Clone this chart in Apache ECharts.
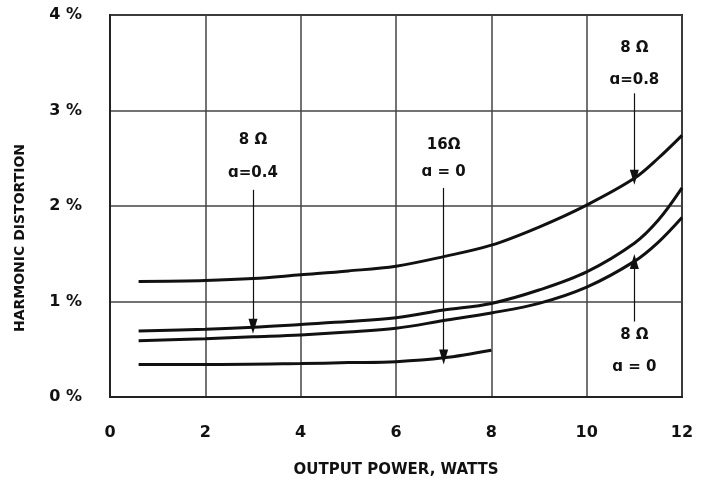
<!DOCTYPE html>
<html>
<head>
<meta charset="utf-8">
<script src="https://cdn.jsdelivr.net/npm/echarts@6/dist/echarts.min.js"></script>
<style>html,body{margin:0;padding:0;background:#fff;}#c{width:704px;height:481px;}</style>
</head>
<body>
<div id="c"></div>
<script>
// Output power (watts)
const powerX = [0.6, 2, 3, 4, 5, 6, 7, 8, 9, 10, 11, 11.5, 12];
// Harmonic distortion (%)
const dist8a08 = [1.21, 1.22, 1.24, 1.28, 1.32, 1.37, 1.47, 1.59, 1.78, 2.01, 2.29, 2.50, 2.74];
const dist8a04 = [0.69, 0.71, 0.73, 0.76, 0.79, 0.83, 0.91, 0.98, 1.12, 1.31, 1.61, 1.85, 2.19];
const dist8a0  = [0.59, 0.61, 0.63, 0.65, 0.68, 0.72, 0.80, 0.88, 0.98, 1.15, 1.42, 1.62, 1.88];
const power16 = [0.6, 2, 4, 5, 6, 7, 8];
const dist16a0 = [0.34, 0.34, 0.35, 0.36, 0.37, 0.41, 0.49];
const xTicks = [0, 2, 4, 6, 8, 10, 12];
const yTicks = [0, 1, 2, 3, 4];
// annotations: [x, label line1 y, label line2 y, arrow from y, arrow to y, line1, line2]
const notes = [
  [3, 2.69, 2.34, 2.17, 0.74, '8 Ω', 'ɑ=0.4'],
  [7, 2.64, 2.35, 2.19, 0.42, '16Ω', 'ɑ = 0'],
  [11, 3.65, 3.32, 3.18, 2.30, '8 Ω', 'ɑ=0.8'],
  [11, 0.65, 0.31, 0.79, 1.42, '8 Ω', 'ɑ = 0']
];

const zip = (xs, ys) => xs.map((x, i) => [x, ys[i]]);
const lineStyle = {color: '#111', width: 3};
const mkSeries = (data) => ({
  type: 'line', data, showSymbol: false, smooth: 0.35, lineStyle, z: 5, silent: true
});

const chart = echarts.init(document.getElementById('c'));
const labelFont = {color: '#111', fontFamily: 'DejaVu Sans', fontWeight: 'bold', fontSize: 16};

const annot = {
  type: 'line', data: [], silent: true,
  markLine: {
    silent: true,
    symbol: ['none', 'triangle'],
    symbolSize: [9, 15],
    lineStyle: {color: '#111', width: 1.2, type: 'solid'},
    label: {show: false},
    data: notes.map(n => [{coord: [n[0], n[3]]}, {coord: [n[0], n[4]]}])
  },
  markPoint: {
    silent: true,
    symbol: 'circle', symbolSize: 0,
    label: {show: true, position: 'inside', color: '#111', fontFamily: 'DejaVu Sans', fontWeight: 'bold', fontSize: 15},
    data: notes.flatMap(n => [
      {coord: [n[0], n[1]], value: n[5], label: {formatter: n[5]}},
      {coord: [n[0], n[2]], value: n[6], label: {formatter: n[6]}}
    ])
  }
};

chart.setOption({
  animation: false,
  backgroundColor: '#fff',
  grid: {left: 110, right: 22, top: 15, bottom: 84, containLabel: false, outerBoundsMode: 'none',
         show: true, borderColor: '#222', borderWidth: 2},
  xAxis: {
    type: 'value', min: 0, max: 12, interval: 2,
    name: 'OUTPUT POWER, WATTS', nameLocation: 'middle', nameGap: 66,
    nameTextStyle: {color: '#111', fontFamily: 'DejaVu Sans', fontWeight: 'bold', fontSize: 15},
    axisLine: {show: true, lineStyle: {color: '#222', width: 2}},
    axisTick: {show: false},
    axisLabel: Object.assign({margin: 28}, labelFont),
    splitLine: {show: true, lineStyle: {color: '#444', width: 1.5}}
  },
  yAxis: {
    type: 'value', min: 0, max: 4, interval: 1,
    name: 'HARMONIC DISTORTION', nameLocation: 'middle', nameGap: 83,
    nameTextStyle: {color: '#111', fontFamily: 'DejaVu Sans', fontWeight: 'bold', fontSize: 14, padding: [0, 64, 0, 0]},
    axisLine: {show: true, lineStyle: {color: '#222', width: 2}},
    axisTick: {show: false},
    axisLabel: Object.assign({margin: 28, formatter: v => v + ' %'}, labelFont),
    splitLine: {show: true, lineStyle: {color: '#444', width: 1.5}}
  },
  series: [
    mkSeries(zip(powerX, dist8a08)),
    mkSeries(zip(powerX, dist8a04)),
    mkSeries(zip(powerX, dist8a0)),
    mkSeries(zip(power16, dist16a0)),
    annot
  ]
});
</script>
</body>
</html>
